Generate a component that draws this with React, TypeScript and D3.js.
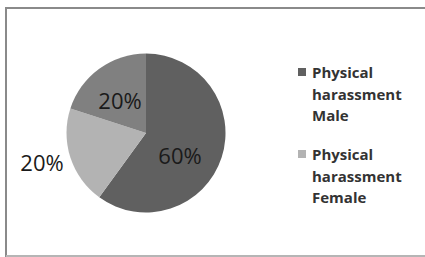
import React from "react";
import * as d3 from "d3";

const categories = ["Physical harassment Male", "Physical harassment Female", "Other"];
const values = [60, 20, 20];
const labels = ["60%", "20%", "20%"];
const colors = ["#606060", "#b3b3b3", "#808080"];
const legendItems = [
  { lines: ["Physical", "harassment", "Male"], color: "#606060" },
  { lines: ["Physical", "harassment", "Female"], color: "#b3b3b3" },
];

export default function App() {
  const W = 425, H = 257;
  const cx = 146, cy = 133, r = 79.5;
  const pie = d3.pie<number>().sort(null).value((d) => d)(values);
  const arc = d3.arc<d3.PieArcDatum<number>>().innerRadius(0).outerRadius(r);
  const labelPos: [number, number][] = [
    [180, 155],
    [42, 162],
    [120, 100],
  ];
  return (
    <svg
      width={W}
      height={H}
      style={{ position: "absolute", left: 0, top: 0, background: "#fff" }}
    >
      <rect x={0} y={0} width={W} height={H} fill="#fff" />
      <line x1={6} y1={8} x2={W} y2={8} stroke="#8a8a8a" strokeWidth={2} />
      <line x1={6} y1={7} x2={6} y2={H} stroke="#8a8a8a" strokeWidth={2} />
      <line x1={6} y1={256} x2={W} y2={256} stroke="#b5b5b5" strokeWidth={2} />
      <g transform={`translate(${cx},${cy})`}>
        {pie.map((p, i) => (
          <path key={categories[i]} d={arc(p) || ""} fill={colors[i]} />
        ))}
      </g>
      {labels.map((t, i) => (
        <text
          key={i}
          x={labelPos[i][0]}
          y={labelPos[i][1]}
          textAnchor="middle"
          dominantBaseline="central"
          fontFamily="'Open Sans', sans-serif"
          fontSize={22}
          fill="#1a1a1a"
        >
          {t}
        </text>
      ))}
      {legendItems.map((item, k) => {
        const y0 = 72 + k * 82;
        return (
          <g key={k}>
            <rect x={298} y={y0 - 4} width={8} height={8} fill={item.color} />
            {item.lines.map((ln, j) => (
              <text
                key={j}
                x={312}
                y={y0 + j * 21.5}
                dominantBaseline="central"
                fontFamily="'Open Sans', sans-serif"
                fontWeight="bold"
                fontSize={15}
                fill="#333"
              >
                {ln}
              </text>
            ))}
          </g>
        );
      })}
    </svg>
  );
}
